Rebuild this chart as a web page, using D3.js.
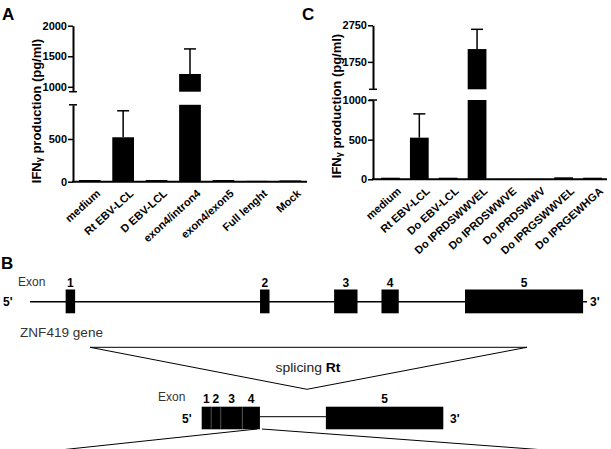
<!DOCTYPE html>
<html>
<head>
<meta charset="utf-8">
<script src="https://cdn.jsdelivr.net/npm/d3@7"></script>
<style>
body { margin: 0; background: #fff; }
svg { display: block; font-family: Arial, "Liberation Sans", Helvetica, sans-serif; }
</style>
</head>
<body>
<div id="chart"></div>
<script>
// panel A data
const catsA = ["medium", "Rt EBV-LCL", "D EBV-LCL", "exon4/intron4", "exon4/exon5", "Full lenght", "Mock"];
const valsA = [20, 520, 20, 1210, 20, 10, 15];
const errA = [0, 310, 0, 410, 0, 0, 0];
const lowTicksA = [0, 500];
const highTicksA = [1000, 1500, 2000];

// panel C data
const catsC = ["medium", "Rt EBV-LCL", "Do EBV-LCL", "Do IPRDSWWVEL", "Do IPRDSWWVE", "Do IPRDSWWV", "Do IPRGSWWVEL", "Do IPRGEWHGA"];
const valsC = [20, 525, 20, 2100, 5, 5, 25, 20];
const errC = [0, 300, 0, 540, 0, 0, 0, 0];
const lowTicksC = [0, 500, 1000];
const highTicksC = [1750, 2750];

// panel B: ZNF419 gene exons (relative position 0-100) and spliced Rt transcript
const geneExons = ["1", "2", "3", "4", "5"];
const geneStart = [6.4, 41.3, 54.6, 63.1, 78.1];
const geneEnd = [8.1, 43.0, 58.8, 66.2, 99.3];
const rtStart = [0, 3.9, 7.9, 16.8, 51.4];
const rtEnd = [3.9, 7.9, 16.8, 24.1, 100];

let w = 611;
let h = 449;

let svg = d3.select("#chart")
    .append("svg")
    .attr("width", w)
    .attr("height", h);

function drawPanel(p) {
    let g = svg.append("g");
    let xScale = d3.scaleBand()
        .domain(p.cats)
        .range(p.xRange)
        .paddingInner(0.35)
        .paddingOuter(0.175);
    let yLow = d3.scaleLinear().domain(p.lowDomain).range(p.lowRange);
    let yHigh = d3.scaleLinear().domain(p.highDomain).range(p.highRange);
    let yAny = function (v) { return v > p.lowDomain[1] ? yHigh(v) : yLow(v); };
    let data = p.cats.map(function (c, i) { return { cat: c, v: p.vals[i], e: p.errs[i] }; });

    // error bars (upper whisker only)
    let eb = g.selectAll(".err").data(data.filter(function (d) { return d.e > 0; })).enter();
    eb.append("line")
        .attr("x1", function (d) { return xScale(d.cat) + xScale.bandwidth() / 2; })
        .attr("x2", function (d) { return xScale(d.cat) + xScale.bandwidth() / 2; })
        .attr("y1", function (d) { return yAny(d.v); })
        .attr("y2", function (d) { return yAny(d.v + d.e); })
        .attr("stroke", "#000").attr("stroke-width", 1.5);
    eb.append("line")
        .attr("x1", function (d) { return xScale(d.cat) + xScale.bandwidth() / 2 - 6; })
        .attr("x2", function (d) { return xScale(d.cat) + xScale.bandwidth() / 2 + 6; })
        .attr("y1", function (d) { return yAny(d.v + d.e); })
        .attr("y2", function (d) { return yAny(d.v + d.e); })
        .attr("stroke", "#000").attr("stroke-width", 1.5);

    // lower part of bars
    g.selectAll(".low").data(data).enter().append("rect")
        .attr("x", function (d) { return xScale(d.cat); })
        .attr("width", xScale.bandwidth())
        .attr("y", function (d) { return yLow(Math.min(d.v, p.lowDomain[1])); })
        .attr("height", function (d) { return yLow(0) - yLow(Math.min(d.v, p.lowDomain[1])); })
        .attr("fill", "#000");
    // upper part of bars
    g.selectAll(".high").data(data.filter(function (d) { return d.v > p.highDomain[0]; })).enter().append("rect")
        .attr("x", function (d) { return xScale(d.cat); })
        .attr("width", xScale.bandwidth())
        .attr("y", function (d) { return yHigh(d.v); })
        .attr("height", function (d) { return yHigh(p.highDomain[0]) - yHigh(d.v); })
        .attr("fill", "#000");

    // y axis, two segments
    let ax = p.xRange[0] - p.gap;
    let lowAxis = g.append("g")
        .attr("transform", "translate(" + ax + ",0)")
        .call(d3.axisLeft(yLow).tickValues(p.lowTicks).tickFormat(d3.format("d"))
            .tickSize(5).tickSizeOuter(0).tickPadding(1));
    let highAxis = g.append("g")
        .attr("transform", "translate(" + ax + ",0)")
        .call(d3.axisLeft(yHigh).tickValues(p.highTicks).tickFormat(d3.format("d"))
            .tickSize(5).tickSizeOuter(0).tickPadding(1));
    [lowAxis, highAxis].forEach(function (a) {
        a.select(".domain").attr("stroke-width", 2);
        a.selectAll(".tick line").attr("stroke-width", 1.5);
        a.selectAll("text")
            .attr("font-size", 11)
            .attr("font-weight", "bold")
            .attr("font-family", "Arial, 'Liberation Sans', sans-serif")
            .attr("fill", "#000");
    });
    // break caps
    [yLow(p.lowDomain[1]), yHigh(p.highDomain[0])].forEach(function (y) {
        g.append("line")
            .attr("x1", ax - 4).attr("x2", ax + 4)
            .attr("y1", y).attr("y2", y)
            .attr("stroke", "#000").attr("stroke-width", 1.5);
    });

    // x axis
    g.append("line")
        .attr("x1", ax - 1).attr("x2", p.xRange[1])
        .attr("y1", yLow(0)).attr("y2", yLow(0))
        .attr("stroke", "#000").attr("stroke-width", 2);
    let xAxis = g.append("g")
        .attr("transform", "translate(0," + yLow(0) + ")")
        .call(d3.axisBottom(xScale).tickSize(0).tickPadding(0));
    xAxis.select(".domain").remove();
    xAxis.selectAll("text")
        .attr("x", 0).attr("y", 0)
        .attr("dy", "0.71em")
        .attr("transform", "translate(6,7) rotate(-42)")
        .style("text-anchor", "end")
        .attr("font-size", 11)
        .attr("font-weight", "bold")
        .attr("font-family", "Arial, 'Liberation Sans', sans-serif")
        .attr("fill", "#000");

    // y title
    let t = g.append("text")
        .attr("transform", "translate(" + p.titleX + "," + p.titleY + ") rotate(-90)")
        .attr("text-anchor", "middle")
        .attr("font-size", 13)
        .attr("font-weight", "bold")
        .attr("fill", "#000");
    t.append("tspan").text("IFN");
    t.append("tspan").text("γ").attr("font-size", 9).attr("dy", 1);
    t.append("tspan").text(" production (pg/ml)").attr("dy", -1);
}

drawPanel({
    cats: catsA, vals: valsA, errs: errA,
    lowTicks: lowTicksA, highTicks: highTicksA,
    xRange: [73, 307], gap: 0,
    lowDomain: [0, 900], lowRange: [181.7, 104.8],
    highDomain: [920, 2000], highRange: [91.7, 25.7],
    titleX: 41, titleY: 111
});

drawPanel({
    cats: catsC, vals: valsC, errs: errC,
    lowTicks: lowTicksC, highTicks: highTicksC,
    xRange: [376, 607], gap: 3,
    lowDomain: [0, 1000], lowRange: [179.3, 100],
    highDomain: [1000, 2750], highRange: [89.3, 25.3],
    titleX: 341, titleY: 106
});

// panel letters
[["A", 2, 20], ["C", 302, 20], ["B", 1, 269]].forEach(function (l) {
    svg.append("text")
        .attr("x", l[1]).attr("y", l[2])
        .attr("font-size", 17).attr("font-weight", "bold")
        .text(l[0]);
});

// ---- panel B: gene structure ----
let geneX = d3.scaleLinear().domain([0, 100]).range([30, 587]);
let geneY = 301.7;

svg.append("line")
    .attr("x1", geneX(0)).attr("x2", geneX(100))
    .attr("y1", geneY).attr("y2", geneY)
    .attr("stroke", "#000").attr("stroke-width", 1.6);

svg.selectAll(".gexon").data(geneExons).enter().append("rect")
    .attr("x", function (d, i) { return geneX(geneStart[i]); })
    .attr("width", function (d, i) { return geneX(geneEnd[i]) - geneX(geneStart[i]); })
    .attr("y", 289.5)
    .attr("height", 23.8)
    .attr("fill", "#000");

svg.selectAll(".glabel").data(geneExons).enter().append("text")
    .attr("x", function (d, i) { return geneX((geneStart[i] + geneEnd[i]) / 2); })
    .attr("y", 286.5)
    .attr("text-anchor", "middle")
    .attr("font-size", 12).attr("font-weight", "bold")
    .text(function (d) { return d; });

svg.append("text").attr("x", 18).attr("y", 286).attr("font-size", 12).attr("fill", "#333").text("Exon");
svg.append("text").attr("x", 3).attr("y", 306).attr("font-size", 12).attr("font-weight", "bold").text("5'");
svg.append("text").attr("x", 590).attr("y", 306).attr("font-size", 12).attr("font-weight", "bold").text("3'");
svg.append("text").attr("x", 20).attr("y", 337).attr("font-size", 12)
    .attr("textLength", 83).attr("lengthAdjust", "spacingAndGlyphs")
    .attr("fill", "#333").text("ZNF419 gene");

// splicing triangle
svg.append("path")
    .attr("d", "M90,347.3 L527,347.3 L307,389.3 Z")
    .attr("fill", "none").attr("stroke", "#000").attr("stroke-width", 1);

let sp = svg.append("text")
    .attr("x", 308).attr("y", 372)
    .attr("text-anchor", "middle")
    .attr("font-size", 12)
    .attr("textLength", 65).attr("lengthAdjust", "spacingAndGlyphs")
    .attr("fill", "#222");
sp.append("tspan").text("splicing ");
sp.append("tspan").attr("font-weight", "bold").attr("fill", "#000").text("Rt");

// spliced transcript
let rtX = d3.scaleLinear().domain([0, 100]).range([201.7, 443.3]);
let rtTop = 406.7, rtBot = 429.3;

svg.append("line")
    .attr("x1", rtX(rtEnd[3])).attr("x2", rtX(rtStart[4]))
    .attr("y1", 416.7).attr("y2", 416.7)
    .attr("stroke", "#000").attr("stroke-width", 1);

svg.selectAll(".rexon").data(geneExons).enter().append("rect")
    .attr("x", function (d, i) { return rtX(rtStart[i]); })
    .attr("width", function (d, i) { return rtX(rtEnd[i]) - rtX(rtStart[i]); })
    .attr("y", rtTop)
    .attr("height", rtBot - rtTop)
    .attr("fill", "#000");

// exon junctions inside the first block
svg.selectAll(".junc").data(rtStart.slice(1, 4)).enter().append("line")
    .attr("x1", function (d) { return rtX(d); })
    .attr("x2", function (d) { return rtX(d); })
    .attr("y1", rtTop + 1).attr("y2", rtBot - 1)
    .attr("stroke", "#555").attr("stroke-width", 0.8);

svg.selectAll(".rlabel").data(geneExons).enter().append("text")
    .attr("x", function (d, i) { return rtX((rtStart[i] + rtEnd[i]) / 2); })
    .attr("y", 402.7)
    .attr("text-anchor", "middle")
    .attr("font-size", 12).attr("font-weight", "bold")
    .text(function (d) { return d; });

svg.append("text").attr("x", 158).attr("y", 401).attr("font-size", 12).attr("fill", "#333").text("Exon");
svg.append("text").attr("x", 182).attr("y", 423).attr("font-size", 12).attr("font-weight", "bold").text("5'");
svg.append("text").attr("x", 450).attr("y", 423).attr("font-size", 12).attr("font-weight", "bold").text("3'");

// zoom-out lines under the exon 1-4 block
svg.append("line").attr("x1", 257).attr("y1", 429).attr("x2", 60).attr("y2", 450)
    .attr("stroke", "#000").attr("stroke-width", 1);
svg.append("line").attr("x1", 262).attr("y1", 429).attr("x2", 545).attr("y2", 450)
    .attr("stroke", "#000").attr("stroke-width", 1);
</script>
</body>
</html>
